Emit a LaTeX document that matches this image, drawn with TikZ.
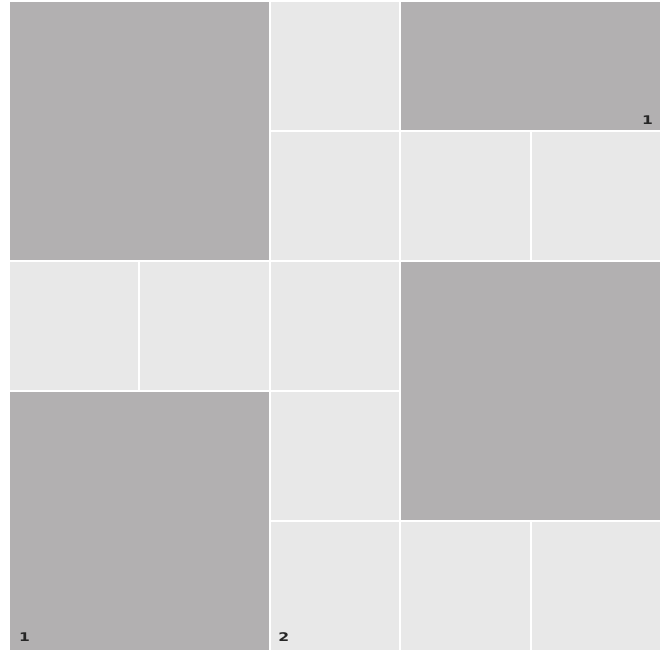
\documentclass[tikz,border=0pt]{standalone}
\usepackage{fontspec}
\setsansfont{DejaVu Sans}
\definecolor{tiledark}{HTML}{B2B0B1}
\definecolor{tilelight}{HTML}{E8E8E8}
\begin{document}
\begin{tikzpicture}[
  tile/.style={rectangle, anchor=north west, inner sep=0pt, outer sep=0pt,
               minimum width=3.21cm, minimum height=3.2cm, fill=tilelight},
  block/.style={rectangle, anchor=north west, inner sep=0pt, outer sep=0pt,
                minimum width=6.47cm, minimum height=6.45cm, fill=tiledark},
  wideblock/.style={block, minimum height=3.2cm},
  num/.style={font=\sffamily\bfseries\fontsize{8.5}{9}\selectfont, inner sep=0pt,
              xscale=1.3, text=black!85},
]
\useasboundingbox[fill=white] (0,0) rectangle (16.775,-16.35);
% dark blocks
\node[block]     (bTL) at (0.25,-0.05)  {};
\node[wideblock] (bTR) at (10.03,-0.05) {};
\node[block]     (bMR) at (10.03,-6.55) {};
\node[block]     (bBL) at (0.25,-9.80)  {};
% light tiles
\node[tile] (t20) at (6.77,-0.05)  {};
\node[tile] (t21) at (6.77,-3.30)  {};
\node[tile] (t31) at (10.03,-3.30) {};
\node[tile] (t41) at (13.29,-3.30) {};
\node[tile] (t02) at (0.25,-6.55)  {};
\node[tile] (t12) at (3.51,-6.55)  {};
\node[tile] (t22) at (6.77,-6.55)  {};
\node[tile] (t23) at (6.77,-9.80)  {};
\node[tile] (t24) at (6.77,-13.05) {};
\node[tile] (t34) at (10.03,-13.05) {};
\node[tile] (t44) at (13.29,-13.05) {};
% numbers
\node[num, anchor=south east] (nTR) at ([shift={(-0.17,0.13)}]bTR.south east) {1};
\node[num, anchor=south west] (nBL) at ([shift={(0.22,0.2)}]bBL.south west) {1};
\node[num, anchor=south west] (nB2) at ([shift={(0.18,0.2)}]t24.south west) {2};
\end{tikzpicture}
\end{document}
